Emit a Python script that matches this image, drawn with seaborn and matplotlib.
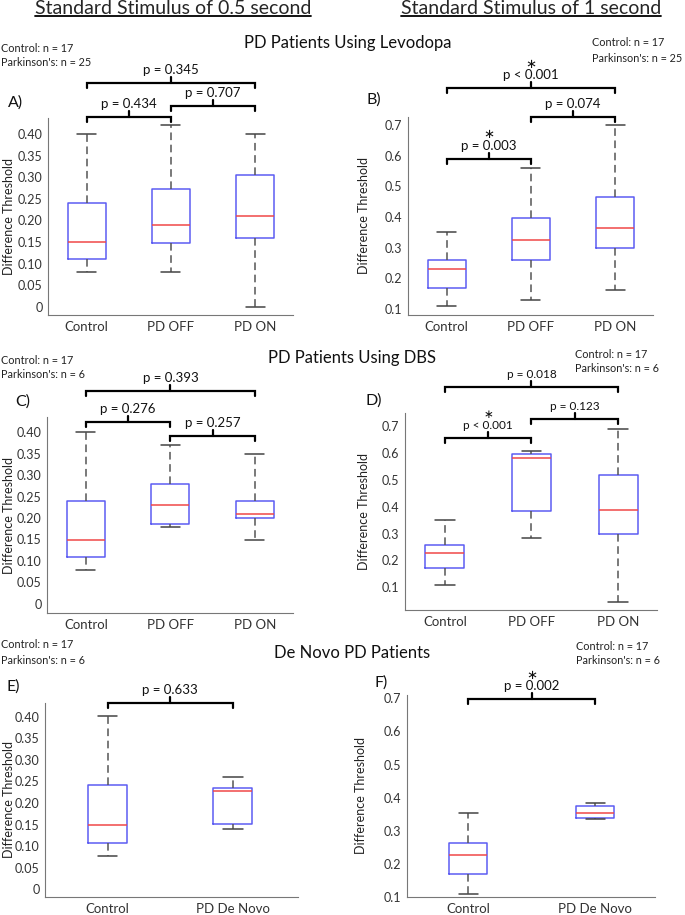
import numpy as np
import pandas as pd
import seaborn as sns
import matplotlib.pyplot as plt
from matplotlib.lines import Line2D
from matplotlib.transforms import blended_transform_factory

W, H = 685, 915

# Group labels
groups_med = ["Control", "PD OFF", "PD ON"]
groups_denovo = ["Control", "PD De Novo"]

# Five-number summaries: [min, q1, median, q3, max]
a_control = [0.08, 0.11, 0.15, 0.24, 0.40]
a_off = [0.08, 0.148, 0.19, 0.272, 0.42]
a_on = [0.0, 0.16, 0.21, 0.305, 0.40]

b_control = [0.11, 0.168, 0.23, 0.26, 0.35]
b_off = [0.13, 0.26, 0.325, 0.395, 0.56]
b_on = [0.16, 0.30, 0.365, 0.465, 0.70]

c_control = [0.08, 0.11, 0.15, 0.24, 0.40]
c_off = [0.18, 0.187, 0.23, 0.28, 0.37]
c_on = [0.15, 0.20, 0.21, 0.24, 0.35]

d_control = [0.11, 0.17, 0.228, 0.258, 0.35]
d_off = [0.285, 0.383, 0.582, 0.597, 0.608]
d_on = [0.045, 0.297, 0.388, 0.518, 0.688]

e_control = [0.077, 0.107, 0.148, 0.241, 0.402]
e_denovo = [0.14, 0.152, 0.228, 0.234, 0.26]

f_control = [0.11, 0.168, 0.227, 0.262, 0.355]
f_denovo = [0.336, 0.34, 0.354, 0.375, 0.383]

# Y ticks
ticks_half = [0, 0.05, 0.10, 0.15, 0.20, 0.25, 0.30, 0.35, 0.40]
labels_half = ["0", "0.05", "0.10", "0.15", "0.20", "0.25", "0.30", "0.35", "0.40"]
ticks_one = [0.1, 0.2, 0.3, 0.4, 0.5, 0.6, 0.7]
labels_one = ["0.1", "0.2", "0.3", "0.4", "0.5", "0.6", "0.7"]

sns.set_style("white")
plt.rcParams['font.family'] = ['Lato', 'DejaVu Sans']

fig = plt.figure(figsize=(W / 100, H / 100), dpi=100)


def draw_panel(rect, groups, summaries, width, yticks, yticklabels, ylim, xlim, ylab_x):
    l, t, r, b = rect
    ax = fig.add_axes([l / W, 1 - b / H, (r - l) / W, (b - t) / H])
    df = pd.DataFrame({"group": np.repeat(groups, 5),
                       "value": np.concatenate(summaries)})
    sns.boxplot(data=df, x="group", y="value", order=groups, ax=ax,
                width=width, whis=(0, 100), showfliers=False, fill=False,
                linewidth=1.1,
                boxprops=dict(color="#5c5cf2"),
                medianprops=dict(color="#f04848"),
                whiskerprops=dict(color="#555555", linestyle=(0, (5, 3))),
                capprops=dict(color="#444444"))
    ax.set_ylim(ylim)
    ax.set_xlim(xlim)
    ax.set_yticks(yticks)
    ax.set_yticklabels(yticklabels)
    ax.set_xlabel("")
    ax.set_ylabel("Difference Threshold", fontsize=9, color="#222222")
    ax.yaxis.set_label_coords(ylab_x, 0.5)
    for s in ["top", "right"]:
        ax.spines[s].set_visible(False)
    for s in ["left", "bottom"]:
        ax.spines[s].set_color("#777777")
        ax.spines[s].set_linewidth(0.8)
    ax.tick_params(axis="both", direction="in", length=3, width=0.7,
                   color="#777777", labelcolor="#333333", pad=4)
    ax.tick_params(axis="y", labelsize=9)
    ax.tick_params(axis="x", labelsize=9.5)
    return ax


def bracket(ax, i0, i1, y, label, star=False, size=9.5):
    h = ax.bbox.height
    tr = blended_transform_factory(ax.transData, ax.transAxes)
    leg = 5 / h
    ax.plot([i0, i0, i1, i1], [y - leg, y, y, y - leg], color="black",
            lw=1.6, transform=tr, clip_on=False, solid_joinstyle="miter")
    xm = (i0 + i1) / 2
    ax.plot([xm, xm], [y, y + 6 / h], color="black", lw=1.6,
            transform=tr, clip_on=False)
    # significant comparisons get a star on the line above the p value
    txt = "\u2217\n" + label if star else label
    ax.text(xm, y + 7 / h, txt, ha="center", va="bottom", ma="center",
            linespacing=0.95, transform=tr, fontsize=size, color="#111111")


def ftext(x, y, s, **kw):
    return fig.text(x / W, 1 - y / H, s, **kw)


# Row 1: Levodopa
ax_a = draw_panel((48, 118, 293, 315), groups_med, [a_control, a_off, a_on],
                  0.45, ticks_half, labels_half, (-0.019, 0.437), (-0.46, 2.45), -0.135)
bracket(ax_a, 0, 1, 1.005, "p = 0.434")
bracket(ax_a, 1, 2, 1.061, "p = 0.707")
bracket(ax_a, 0, 2, 1.178, "p = 0.345")

ax_b = draw_panel((408, 117, 653, 315), groups_med, [b_control, b_off, b_on],
                  0.45, ticks_one, labels_one, (0.08, 0.726), (-0.46, 2.45), -0.155)
bracket(ax_b, 0, 1, 0.788, "p = 0.003", star=True)
bracket(ax_b, 1, 2, 1.0, "p = 0.074")
bracket(ax_b, 0, 2, 1.146, "p < 0.001", star=True)

# Row 2: DBS
ax_c = draw_panel((47, 417, 293, 613), groups_med, [c_control, c_off, c_on],
                  0.45, ticks_half, labels_half, (-0.021, 0.435), (-0.46, 2.45), -0.13)
bracket(ax_c, 0, 1, 0.974, "p = 0.276")
bracket(ax_c, 1, 2, 0.903, "p = 0.257")
bracket(ax_c, 0, 2, 1.133, "p = 0.393")

ax_d = draw_panel((405, 413, 657, 610), groups_med, [d_control, d_off, d_on],
                  0.45, ticks_one, labels_one, (0.015, 0.749), (-0.46, 2.45), -0.14)
bracket(ax_d, 0, 1, 0.873, "p < 0.001", star=True, size=8.5)
bracket(ax_d, 1, 2, 0.970, "p = 0.123", size=8.5)
bracket(ax_d, 0, 2, 1.132, "p = 0.018", size=8.5)

# Row 3: De Novo
ax_e = draw_panel((45, 703, 298, 897), groups_denovo, [e_control, e_denovo],
                  0.31, ticks_half, labels_half, (-0.018, 0.432), (-0.5, 1.52), -0.12)
bracket(ax_e, 0, 1, 1.0, "p = 0.633")

ax_f = draw_panel((407, 695, 655, 897), groups_denovo, [f_control, f_denovo],
                  0.30, ticks_one, labels_one, (0.1, 0.71), (-0.48, 1.47), -0.16)
bracket(ax_f, 0, 1, 0.98, "p = 0.002", star=True)

# Panel letters
for x, y, s in [(8, 103, "A)"), (367, 100, "B)"), (15, 402, "C)"),
                (366, 401, "D)"), (7, 687, "E)"), (375, 683, "F)")]:
    ftext(x, y, s, fontsize=11.5, ha="left", va="center", color="#111111")

# Sample sizes
for x, y, n in [(1, 48, 25), (592, 43, 25), (1, 360, 6),
                (575, 354, 6), (1, 645, 6), (576, 646, 6)]:
    ftext(x, y, "Control: n = 17", fontsize=7.8, ha="left", va="center", color="#222222")
    ftext(x, y + 15, f"Parkinson's: n = {n}", fontsize=7.8, ha="left", va="center", color="#222222")

# Row titles
ftext(348, 43, "PD Patients Using Levodopa", fontsize=12, ha="center", va="center", color="#111111")
ftext(352, 358, "PD Patients Using DBS", fontsize=12, ha="center", va="center", color="#111111")
ftext(352, 653, "De Novo PD Patients", fontsize=12, ha="center", va="center", color="#111111")

# Column headers, underlined
headers = [ftext(173, 8, "Standard Stimulus of 0.5 second", fontsize=14, ha="center", va="center"),
           ftext(531, 8, "Standard Stimulus of 1 second", fontsize=14, ha="center", va="center")]
fig.canvas.draw()
for t in headers:
    bb = t.get_window_extent()
    fig.add_artist(Line2D([bb.x0 / W, bb.x1 / W], [1 - 16 / H, 1 - 16 / H],
                          color="black", lw=1.3))

fig.savefig("out.png", dpi=100)
